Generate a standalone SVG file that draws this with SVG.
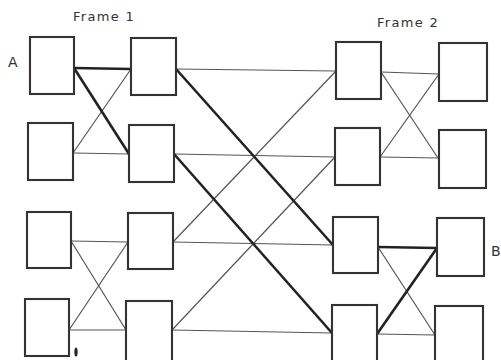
<svg xmlns="http://www.w3.org/2000/svg" width="501" height="360" viewBox="0 0 501 360">
<style>
.box{fill:#fff;stroke:#333;stroke-width:2.1}
.thin{stroke:#555;stroke-width:1.2;fill:none}
.thick{stroke:#222;stroke-width:2.6;fill:none}
.lbl{font-family:"DejaVu Sans",sans-serif;font-size:13px;fill:#333;letter-spacing:1.3px}
.big{font-family:"DejaVu Sans",sans-serif;font-size:14px;fill:#333}
</style>
<rect width="501" height="360" fill="#fff"/>
<g id="connectors">
<line class="thin" x1="73" y1="153" x2="131" y2="69"/>
<line class="thin" x1="73" y1="153" x2="129" y2="154"/>
<line class="thin" x1="71" y1="241" x2="128" y2="242"/>
<line class="thin" x1="71" y1="241" x2="126" y2="330"/>
<line class="thin" x1="69" y1="330" x2="128" y2="242"/>
<line class="thin" x1="69" y1="330" x2="126" y2="330"/>
<line class="thin" x1="176" y1="69" x2="336" y2="71"/>
<line class="thin" x1="174" y1="154" x2="335" y2="157"/>
<line class="thin" x1="173" y1="242" x2="336" y2="71"/>
<line class="thin" x1="173" y1="242" x2="333" y2="245"/>
<line class="thin" x1="172" y1="330" x2="335" y2="157"/>
<line class="thin" x1="172" y1="330" x2="332" y2="333"/>
<line class="thin" x1="381" y1="72" x2="439" y2="74"/>
<line class="thin" x1="381" y1="72" x2="438" y2="158"/>
<line class="thin" x1="380" y1="157" x2="439" y2="74"/>
<line class="thin" x1="380" y1="157" x2="438" y2="158"/>
<line class="thin" x1="378" y1="247" x2="435" y2="335"/>
<line class="thin" x1="377" y1="334" x2="435" y2="335"/>
<line class="thick" x1="74" y1="68" x2="131" y2="69"/>
<line class="thick" x1="74" y1="68" x2="129" y2="154"/>
<line class="thick" x1="176" y1="69" x2="333" y2="245"/>
<line class="thick" x1="174" y1="154" x2="332" y2="333"/>
<line class="thick" x1="378" y1="247" x2="437" y2="248"/>
<line class="thick" x1="377" y1="334" x2="437" y2="248"/>
</g>
<g id="f1-a1"><rect class="box" x="30" y="37" width="44" height="57"/></g>
<g id="f1-a2"><rect class="box" x="28" y="123" width="45" height="57"/></g>
<g id="f1-a3"><rect class="box" x="27" y="212" width="44" height="56"/></g>
<g id="f1-a4"><rect class="box" x="25" y="299" width="44" height="57"/></g>
<g id="f1-b1"><rect class="box" x="131" y="38" width="45" height="57"/></g>
<g id="f1-b2"><rect class="box" x="129" y="125" width="45" height="57"/></g>
<g id="f1-b3"><rect class="box" x="128" y="213" width="45" height="56"/></g>
<g id="f1-b4"><rect class="box" x="126" y="301" width="46" height="62"/></g>
<g id="f2-a1"><rect class="box" x="336" y="42" width="45" height="57"/></g>
<g id="f2-a2"><rect class="box" x="335" y="128" width="45" height="57"/></g>
<g id="f2-a3"><rect class="box" x="333" y="217" width="45" height="56"/></g>
<g id="f2-a4"><rect class="box" x="332" y="305" width="45" height="60"/></g>
<g id="f2-b1"><rect class="box" x="439" y="43" width="48" height="58"/></g>
<g id="f2-b2"><rect class="box" x="439" y="130" width="47" height="58"/></g>
<g id="f2-b3"><rect class="box" x="437" y="218" width="47" height="58"/></g>
<g id="f2-b4"><rect class="box" x="435" y="306" width="48" height="60"/></g>
<g id="labels">
<text class="lbl" x="73" y="21">Frame 1</text>
<text class="lbl" x="377" y="27">Frame 2</text>
<text class="big" x="8" y="67">A</text>
<text class="big" x="491" y="256">B</text>
</g>
<ellipse cx="76" cy="352" rx="1.6" ry="4.5" fill="#222"/>
</svg>
